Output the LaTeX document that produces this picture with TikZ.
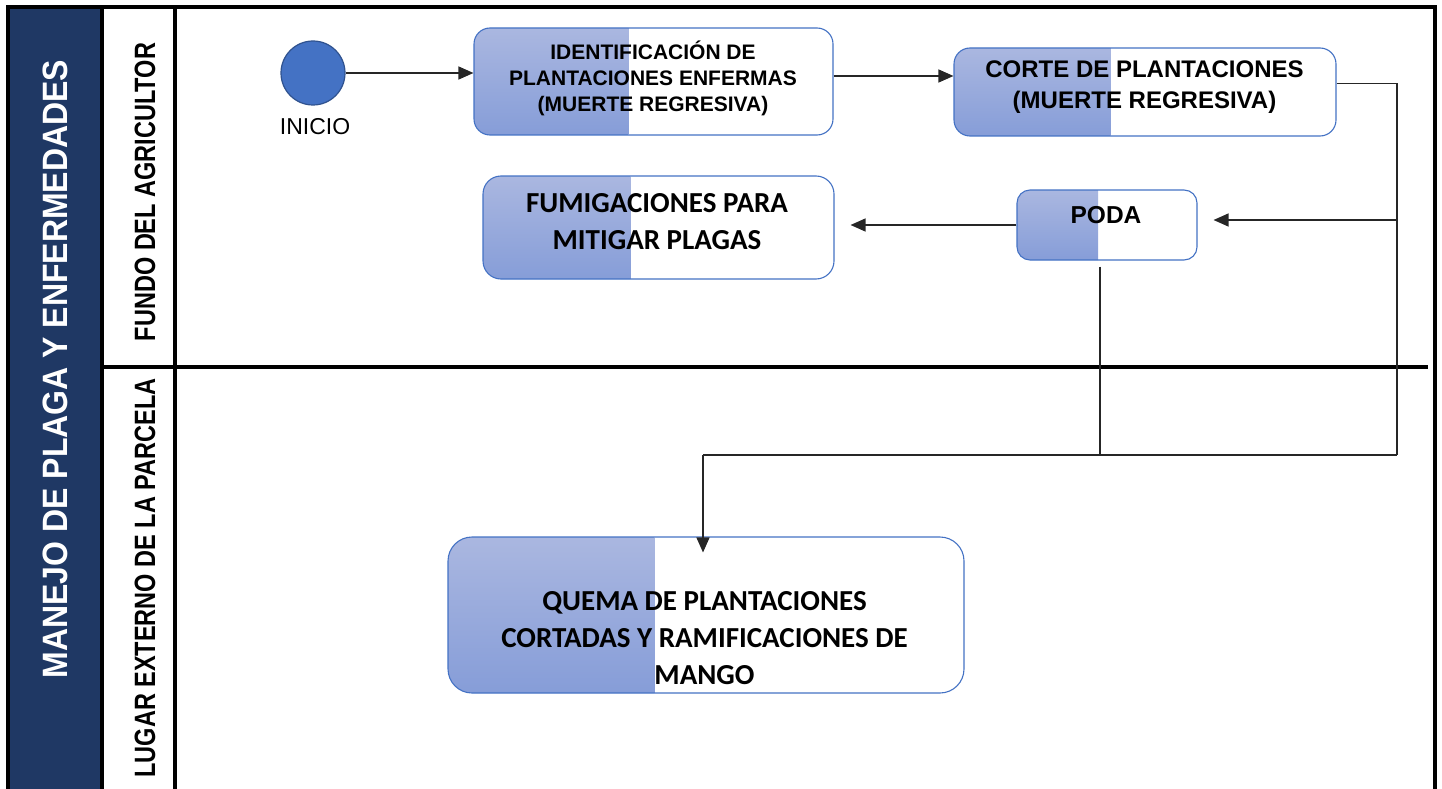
\documentclass[tikz,border=0pt]{standalone}
\usepackage{fontspec}
\setmainfont{Liberation Sans}
\newfontfamily\calfont{Carlito}
\usetikzlibrary{arrows.meta,calc}

\definecolor{laneblue}{RGB}{31,56,100}
\definecolor{startblue}{RGB}{68,114,196}
\definecolor{startline}{RGB}{47,82,143}
\definecolor{boxline}{RGB}{68,114,196}
\definecolor{boxtop}{RGB}{170,183,224}
\definecolor{boxbot}{RGB}{134,157,216}

\tikzset{
  act/.style={draw=boxline, line width=1.1pt, fill=white, rounded corners=16pt, inner sep=0pt,
    path picture={\shade[sharp corners, top color=boxtop, bottom color=boxbot]
      (path picture bounding box.north west) rectangle
      ($(path picture bounding box.south west)!#1!(path picture bounding box.south east)$);}},
  acttext/.style={align=center, inner sep=0pt, font=\bfseries\fontsize{21}{26}\selectfont},
  caltext/.style={align=center, inner sep=0pt, font=\calfont\bfseries\fontsize{29}{37}\selectfont},
  lanelabel/.style={rotate=90, inner sep=0pt, font=\bfseries\fontsize{23.5}{28}\selectfont},
  flow/.style={line width=1.3pt, draw=black!85},
  arr/.style={flow, -{Triangle[length=15pt,width=13pt]}},
  frame/.style={line width=4pt},
}

\newcommand{\lanetext}[1]{\scalebox{1}[1.25]{#1}}

\begin{document}
\begin{tikzpicture}[x=1pt,y=1pt,yscale=-1,xscale=1]
\useasboundingbox (0,0) rectangle (1442,789);

%Shape: Pool band
\fill[laneblue] (10,9) rectangle (100,789);
%Straight Lines: frame and lanes
\draw[frame] (8,789) -- (8,7) -- (1435,7) -- (1435,789);
\draw[frame] (102,7) -- (102,789);
\draw[frame] (175,7) -- (175,789);
\draw[frame] (104,367) -- (1428,367);

% Text Node: pool and lanes
\node[rotate=90, inner sep=0pt, text=white, font=\bfseries\fontsize{32}{36}\selectfont] (pool) at (55,369) {\scalebox{1}[1.1]{MANEJO DE PLAGA Y ENFERMEDADES}};
\node[lanelabel] (lanetop) at (145,192) {\lanetext{FUNDO DEL AGRICULTOR}};
\node[lanelabel] (lanebot) at (145,578) {\lanetext{LUGAR EXTERNO DE LA PARCELA}};

%Shape: Circle
\node[circle, fill=startblue, draw=startline, line width=1.2pt, minimum size=64pt, inner sep=0pt] (inicio) at (313,73) {};
% Text Node
\node[inner sep=0pt, font=\fontsize{23}{27}\selectfont] (iniciotxt) at (315,127) {INICIO};

%Shape: Activities
\node[act=0.43, minimum width=359pt, minimum height=107pt] (ident) at (653.5,81.5) {};
\node[act=0.41, minimum width=382pt, minimum height=88pt] (corte) at (1145,92) {};
\node[act=0.45, minimum width=180pt, minimum height=70pt, rounded corners=13pt] (poda) at (1107,225) {};
\node[act=0.42, minimum width=351pt, minimum height=103pt, rounded corners=18pt] (fumig) at (658.5,227.5) {};
\node[act=0.40, minimum width=516pt, minimum height=156pt, rounded corners=24pt] (quema) at (706,615) {};

% Text Node
\node[acttext] (identtxt) at (653,78) {IDENTIFICACIÓN DE\\PLANTACIONES ENFERMAS\\(MUERTE REGRESIVA)};
\node[acttext, font=\bfseries\fontsize{24}{31}\selectfont] (cortetxt) at (1144.5,87.5) {CORTE DE PLANTACIONES\\(MUERTE REGRESIVA)};
\node[acttext, font=\bfseries\fontsize{24.5}{29}\selectfont] (podatxt) at (1106,215) {PODA};
\node[caltext] (fumigtxt) at (657,222) {FUMIGACIONES PARA\\MITIGAR PLAGAS};
\node[caltext] (quematxt) at (704.5,638) {QUEMA DE PLANTACIONES\\CORTADAS Y RAMIFICACIONES DE\\MANGO};

% Connectors
\coordinate (rb) at (1397,455);
\coordinate (jp) at (1100,455);
\coordinate (jm) at (703,455);
\coordinate (o1) at ($(ident.east)+(0,-5.5)$);
\coordinate (c1) at ($(corte.east)+(0,-8.5)$);
\coordinate (p1) at ($(poda.east)+(16,-5)$);
\coordinate (f1) at (poda.west -| fumig.east);
\coordinate (p2) at (poda.south -| jp);
\coordinate (q1) at (quema.north -| jm);

\draw[arr] (inicio) -- (inicio -| ident.west);
\draw[arr] (o1) -- (o1 -| corte.west);
\draw[flow] (c1) -- (c1 -| rb) -- (rb);
\draw[arr] (p1 -| rb) -- (p1);
\draw[arr] (poda.west) -- ($(f1)+(16,0)$);
\draw[flow] ($(p2)+(0,6)$) -- (jp);
\draw[flow] (rb) -- (jm);
\draw[arr] (jm) -- ($(q1)+(0,16)$);

\end{tikzpicture}
\end{document}
